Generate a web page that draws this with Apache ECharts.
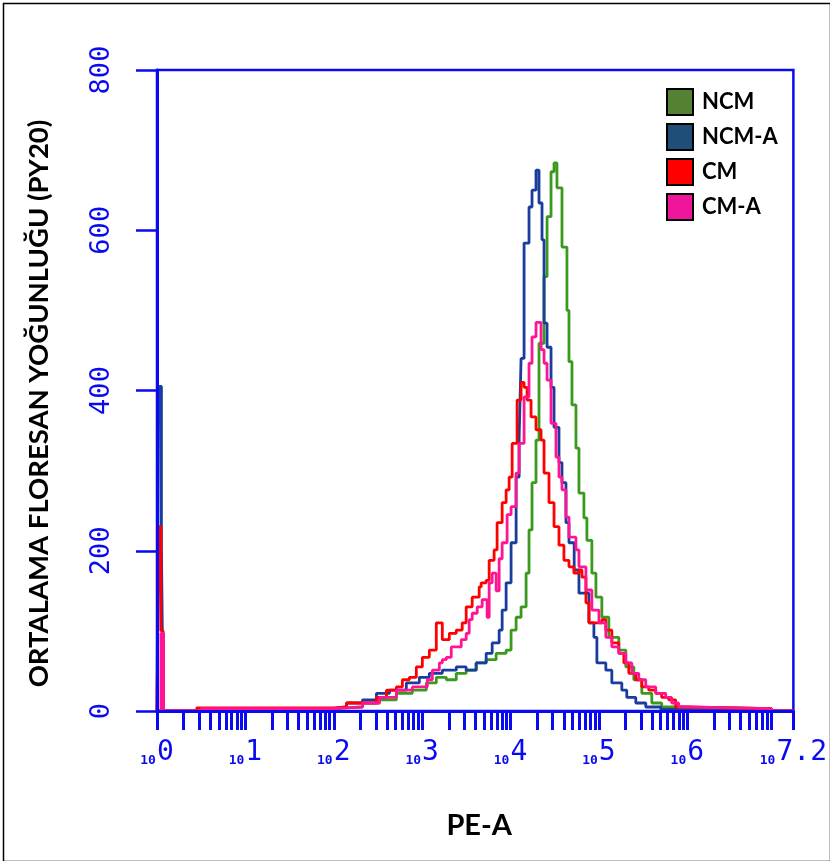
<!DOCTYPE html>
<html>
<head>
<meta charset="utf-8">
<script src="https://cdn.jsdelivr.net/npm/echarts@6/dist/echarts.min.js"></script>
<style>
html,body{margin:0;padding:0;background:#fff;}
#chart{width:830px;height:861px;}
</style>
</head>
<body>
<div id="chart"></div>
<script>
// ---- data (x = log10 of PE-A, y = count) ----
var seriesNames = ['NCM', 'NCM-A', 'CM', 'CM-A'];
var legendColors = ['#548235', '#1F4E79', '#FF0000', '#F0169B'];
var lineColors = ['#3A9A1E', '#1A3C9E', '#FF0000', '#FF1493'];

var ncm = [[0,0],[0.5,3],[2.0,4],[2.144,5],[2.325,10],[2.517,14],[2.708,22],[2.889,26],[3.047,35],[3.160,42],[3.273,39],[3.386,47],[3.498,51],[3.611,60],[3.724,64],[3.837,72],[3.950,76],[4.006,101],[4.063,117],[4.119,130],[4.176,172],[4.209,226],[4.243,285],[4.288,338],[4.322,459],[4.379,542],[4.413,617],[4.458,673],[4.492,684],[4.525,653],[4.582,579],[4.638,500],[4.661,436],[4.695,382],[4.740,328],[4.774,272],[4.830,241],[4.864,213],[4.920,172],[4.966,142],[5.033,117],[5.112,92],[5.225,76],[5.304,55],[5.395,39],[5.485,22],[5.598,10],[5.710,5],[5.85,3],[6.95,0],[7.2,0]];

var ncmA = [[0,0],[0.02,405],[0.05,205],[0.07,0],[0.5,3],[2.0,5],[2.144,10],[2.325,14],[2.483,22],[2.630,26],[2.821,35],[2.968,42],[3.081,47],[3.228,51],[3.386,55],[3.498,51],[3.611,60],[3.724,72],[3.792,85],[3.871,101],[3.905,126],[3.950,160],[4.006,210],[4.063,292],[4.097,340],[4.119,440],[4.153,584],[4.209,629],[4.243,650],[4.288,675],[4.322,634],[4.356,588],[4.379,484],[4.413,454],[4.458,404],[4.492,354],[4.548,310],[4.582,285],[4.627,235],[4.661,210],[4.720,176],[4.774,147],[4.887,110],[4.943,92],[4.977,60],[5.078,51],[5.146,35],[5.259,26],[5.315,17],[5.417,10],[5.530,5],[5.70,2],[6.0,3],[6.95,0],[7.2,0]];

var cm = [[0,0],[0.02,230],[0.045,100],[0.07,0],[0.45,4],[2.0,5],[2.144,10],[2.483,17],[2.596,26],[2.708,30],[2.776,39],[2.855,42],[2.934,55],[3.002,67],[3.081,76],[3.160,110],[3.228,89],[3.307,97],[3.386,101],[3.453,110],[3.498,130],[3.566,142],[3.645,155],[3.668,160],[3.724,163],[3.758,188],[3.814,201],[3.848,235],[3.905,260],[3.950,276],[3.984,292],[4.018,334],[4.074,388],[4.119,410],[4.153,404],[4.187,388],[4.232,367],[4.288,351],[4.345,338],[4.379,297],[4.435,260],[4.492,230],[4.548,207],[4.604,188],[4.661,180],[4.717,172],[4.774,176],[4.808,167],[4.853,135],[4.887,110],[5.033,114],[5.078,101],[5.146,85],[5.225,72],[5.282,60],[5.338,47],[5.417,39],[5.485,30],[5.564,26],[5.643,22],[5.710,17],[5.789,14],[5.868,5],[5.95,3],[6.95,0],[7.2,0]];

var cmA = [[0,0],[0.045,97],[0.075,0],[0.5,3],[2.0,4],[2.144,5],[2.325,10],[2.517,17],[2.708,26],[2.889,30],[3.058,39],[3.115,51],[3.194,60],[3.228,64],[3.273,67],[3.329,80],[3.442,89],[3.498,97],[3.532,114],[3.566,122],[3.623,130],[3.679,139],[3.735,117],[3.758,160],[3.792,172],[3.837,150],[3.871,190],[3.905,210],[3.961,245],[4.006,255],[4.063,297],[4.097,334],[4.153,392],[4.209,434],[4.243,467],[4.288,485],[4.345,451],[4.379,434],[4.413,413],[4.458,359],[4.514,317],[4.548,292],[4.582,276],[4.627,242],[4.661,217],[4.740,201],[4.774,180],[4.853,151],[4.920,126],[5.000,110],[5.078,92],[5.146,80],[5.225,72],[5.304,60],[5.372,47],[5.451,39],[5.530,30],[5.643,22],[5.756,17],[5.823,10],[5.902,5],[6.0,3],[6.95,0],[7.2,0]];

var xTickValues = [0, 1, 2, 3, 4, 5, 6, 7, 7.2];
var xTickLabels = ['0', '1', '2', '3', '4', '5', '6', '7', '7.2'];

// log minor tick positions (axis decoration)
var xTickMarks = [];
for (var d = 0; d <= 7; d++) {
  for (var k = 1; k <= 9; k++) {
    var v = d + Math.log10(k);
    if (v <= 7.2 + 1e-9) xTickMarks.push(+v.toFixed(5));
  }
}
xTickMarks.push(7.2);

var BLUE = '#0A0AF0';
var chart = echarts.init(document.getElementById('chart'), null, {renderer: 'canvas'});
var allData = [ncm, ncmA, cm, cmA];

var option = {
  animation: false,
  backgroundColor: '#ffffff',
  grid: {left: 157, right: 35, top: 70, bottom: 150, show: true, borderColor: BLUE, borderWidth: 2.5, backgroundColor: 'transparent'},
  legend: {
    orient: 'vertical', left: 661, top: 83,
    itemWidth: 26, itemHeight: 26, itemGap: 7, icon: 'rect',
    itemStyle: {borderColor: '#000', borderWidth: 2},
    textStyle: {fontFamily: 'Lato', fontWeight: 'bold', fontSize: 22, color: '#000', padding: [0,0,0,4]},
    data: seriesNames.map(function (n, i) { return {name: n, itemStyle: {color: legendColors[i], borderColor: '#000', borderWidth: 2}}; })
  },
  xAxis: {
    type: 'value', min: 0, max: 7.2, z: 10,
    name: 'PE-A', nameLocation: 'middle', nameGap: 100,
    nameTextStyle: {fontFamily: 'Lato', fontWeight: 'bold', fontSize: 29, color: '#000', padding: [0, 0, 0, 8]},
    axisLine: {show: true, lineStyle: {color: BLUE, width: 3}},
    axisTick: {show: true, inside: false, length: 19, lineStyle: {color: BLUE, width: 3}, customValues: xTickMarks},
    axisLabel: {
      show: true, margin: 28, customValues: xTickValues, showMaxLabel: true, showMinLabel: true,
      formatter: function (val) {
        var idx = -1;
        for (var i = 0; i < xTickValues.length; i++) if (Math.abs(xTickValues[i] - val) < 1e-6) idx = i;
        return '{s|10}{b|' + (idx >= 0 ? xTickLabels[idx] : val) + '}';
      },
      rich: {
        s: {fontFamily: 'DejaVu Sans Mono', fontWeight: 'bold', fontSize: 13, color: BLUE, verticalAlign: 'bottom', padding: [0, 1, 0, 0]},
        b: {fontFamily: 'DejaVu Sans Mono', fontSize: 28, color: BLUE, verticalAlign: 'bottom'}
      }
    },
    splitLine: {show: false}
  },
  yAxis: {
    type: 'value', min: 0, max: 800, interval: 200, z: 10,
    name: 'ORTALAMA FLORESAN YOĞUNLUĞU (PY20)', nameLocation: 'middle', nameRotate: 90, nameGap: 104,
    nameTextStyle: {fontFamily: 'Lato', fontWeight: 'bold', fontSize: 27.5, color: '#000', padding: [0, 26, 0, 0]},
    axisLine: {show: true, lineStyle: {color: BLUE, width: 3}},
    axisTick: {show: true, inside: false, length: 21, lineStyle: {color: BLUE, width: 2.5}},
    axisLabel: {show: true, rotate: 90, margin: 42, fontFamily: 'DejaVu Sans Mono', fontSize: 27, color: BLUE},
    splitLine: {show: false}
  },
  graphic: [{
    type: 'rect', left: 1, top: 1, z: 100,
    shape: {x: 0, y: 0, width: 827, height: 858},
    style: {fill: 'none', stroke: '#000', lineWidth: 1.5}
  }],
  series: seriesNames.map(function (n, i) {
    return {
      name: n, type: 'line', step: 'end', data: allData[i], showSymbol: false, symbol: 'none',
      itemStyle: {color: lineColors[i]},
      lineStyle: {color: lineColors[i], width: 2.8},
      z: 2 + i, clip: true
    };
  })
};
chart.setOption(option);
</script>
</body>
</html>
